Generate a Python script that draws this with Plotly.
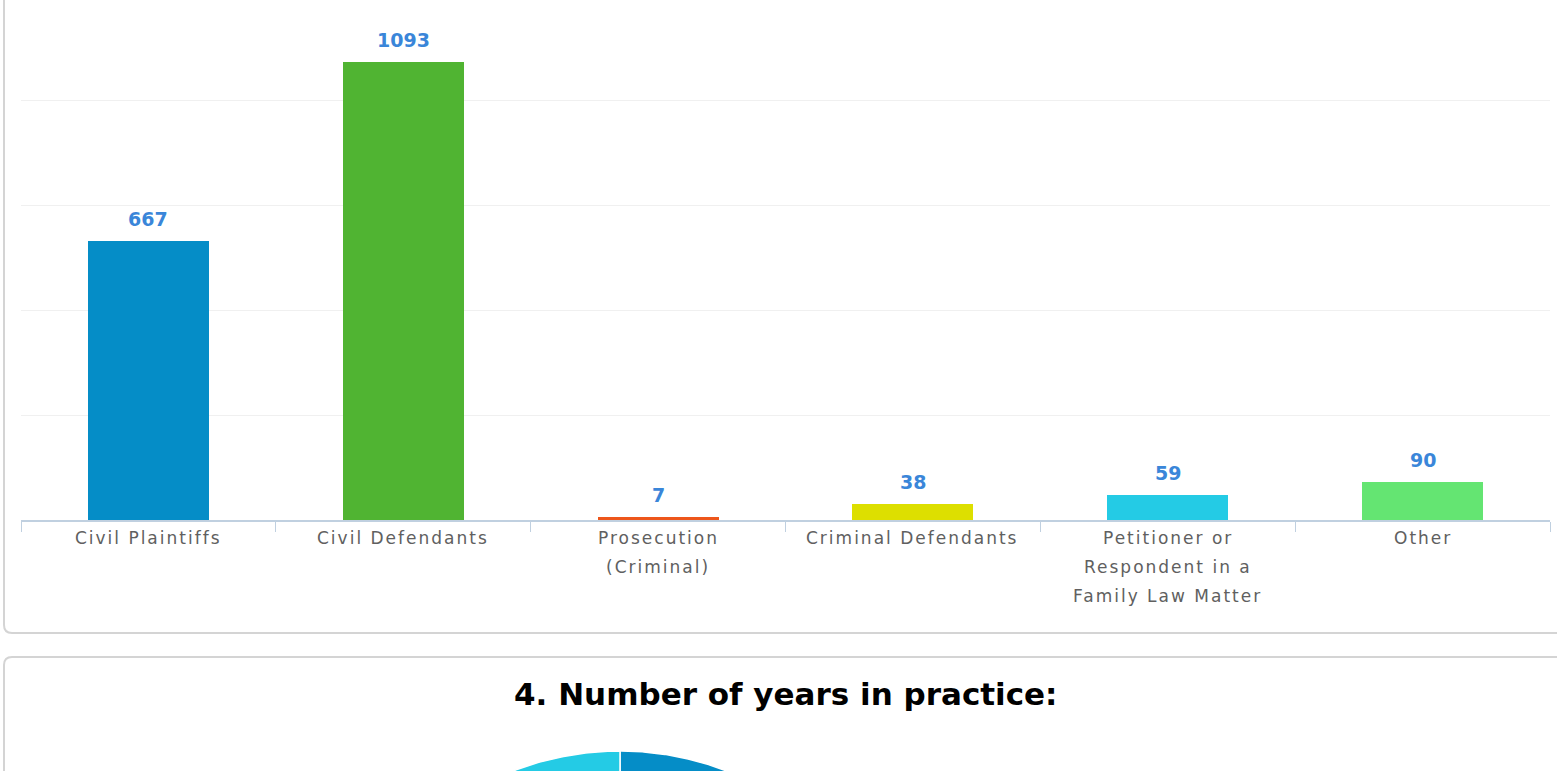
import numpy as np
import plotly.graph_objects as go

W, H = 1557, 771

# ---- data ----
categories = ["Civil Plaintiffs", "Civil Defendants", "Prosecution<br>(Criminal)",
              "Criminal Defendants", "Petitioner or<br>Respondent in a<br>Family Law Matter", "Other"]
values = [667, 1093, 7, 38, 59, 90]
bar_colors = ["#058DC7", "#50B432", "#ED561B", "#DDDF00", "#24CBE5", "#64E572"]

pie_title = "4. Number of years in practice:"
pie_labels = ["0-5 years", "6-10 years", "11-20 years", "21-30 years", "Over 30 years"]
pie_values = [300, 260, 480, 520, 560]
pie_colors = ["#058DC7", "#50B432", "#ED561B", "#DDDF00", "#24CBE5"]


def px(x):
    return x / W


def py(y):
    return 1 - y / H


fig = go.Figure()

cat_keys = [c.replace("<br>", " ") for c in categories]
fig.add_trace(go.Bar(
    x=cat_keys, y=values, marker=dict(color=bar_colors, line=dict(width=0)),
    width=0.475, showlegend=False, hoverinfo="skip",
    xaxis="x", yaxis="y",
))

# data labels
annotations = []
for i, v in enumerate(values):
    annotations.append(dict(
        x=i, y=v, xref="x", yref="y", text=str(v), showarrow=False,
        yanchor="middle", yshift=22,
        font=dict(family="DejaVu Sans", size=19, color="#3a86d9", weight="bold"),
    ))

# category labels (one annotation per line, generous line spacing)
first_cat_ann = len(annotations)
for i, lab in enumerate(categories):
    for j, line in enumerate(lab.split("<br>")):
        annotations.append(dict(
            x=i, y=0, xref="x", yref="y", text=line, showarrow=False,
            yanchor="middle", yshift=-(18 + 29 * j),
            font=dict(family="DejaVu Sans", size=17, color="#606060"),
        ))
last_cat_ann = len(annotations)

# pie (second panel, only the top is visible)
r = 296.0
fr = np.cumsum([0] + pie_values) / float(sum(pie_values))
for k in range(len(pie_values)):
    th = np.linspace(fr[k], fr[k + 1], 200) * 2 * np.pi
    xs = np.concatenate([[0], r * np.sin(th), [0]])
    ys = np.concatenate([[0], r * np.cos(th), [0]])
    fig.add_trace(go.Scatter(
        x=xs, y=ys, fill="toself", fillcolor=pie_colors[k], mode="lines",
        line=dict(color="white", width=1.5), name=pie_labels[k],
        showlegend=False, hoverinfo="skip", xaxis="x2", yaxis="y2",
    ))

annotations.append(dict(
    x=px(786), y=py(694), xref="paper", yref="paper", text=pie_title,
    showarrow=False, xanchor="center", yanchor="middle",
    font=dict(family="DejaVu Sans", size=31, color="#000000", weight="bold"),
))

# panel borders
border = dict(color="#d4d4d4", width=2)
p1 = (f"M {px(4)},{py(-20)} L {px(4)},{py(625)} Q {px(4)},{py(633)} {px(12)},{py(633)} "
      f"L {px(1600)},{py(633)}")
p2 = (f"M {px(1600)},{py(657)} L {px(12)},{py(657)} Q {px(4)},{py(657)} {px(4)},{py(665)} "
      f"L {px(4)},{py(800)}")
shapes = [
    dict(type="path", path=p1, xref="paper", yref="paper", line=border, layer="above"),
    dict(type="path", path=p2, xref="paper", yref="paper", line=border, layer="above"),
]

fig.update_layout(
    width=W, height=H, margin=dict(l=0, r=0, t=0, b=0),
    paper_bgcolor="white", plot_bgcolor="white",
    annotations=annotations, shapes=shapes, bargap=0,
    xaxis=dict(domain=[px(21), px(1550)], type="category", range=[-0.5, 5.5],
               showticklabels=False, ticks="outside", tickson="boundaries",
               ticklen=10, tickwidth=1, tickcolor="#C0D0E0", showline=True,
               linecolor="#C0D0E0", linewidth=1.5, showgrid=False, zeroline=False,
               fixedrange=True),
    yaxis=dict(domain=[py(520), 1], range=[0, 1241], dtick=250, showticklabels=False,
               showgrid=True, gridcolor="#f0f0f0", gridwidth=1, zeroline=False,
               showline=False, fixedrange=True),
    xaxis2=dict(domain=[0, 1], range=[-620, W - 620], visible=False, anchor="y2",
                fixedrange=True),
    yaxis2=dict(domain=[0, py(657)], range=[276, 276 + (771 - 657)], visible=False,
                anchor="x2", fixedrange=True),
)

post = ("document.body.style.margin='0';document.body.style.overflow='hidden';"
        f"for(var k={first_cat_ann};k<{last_cat_ann};k++){{"
        "document.querySelectorAll('.annotation[data-index=\"'+k+'\"] text')"
        ".forEach(function(t){t.style.letterSpacing='2px';});}")

fig.write_html("out.html", config={"displayModeBar": False}, post_script=post)
